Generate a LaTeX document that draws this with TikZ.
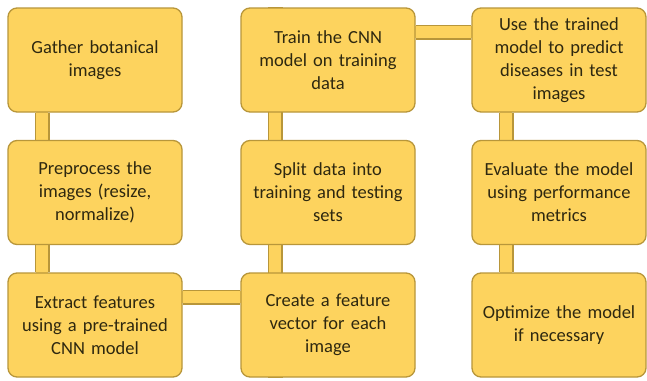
\documentclass[tikz,border=0pt]{standalone}
\usepackage{fontspec}
\setmainfont{Carlito}
\usetikzlibrary{backgrounds}
\definecolor{boxfill}{HTML}{FDD35E}
\definecolor{boxline}{HTML}{B8963A}
\definecolor{boxtext}{HTML}{2E2810}
\tikzset{
  stepbox/.style={draw=boxline, line width=1.3pt, fill=boxfill, rounded corners=9pt,
    minimum width=174pt, minimum height=104pt, inner sep=0pt, text width=166pt,
    align=center, text=boxtext, font=\fontsize{18.5}{23}\selectfont},
  barout/.style={draw=boxline, line width=15pt},
  barin/.style={draw=boxfill, line width=12pt}
}
\begin{document}
\begin{tikzpicture}[x=1pt,y=-1pt]
\useasboundingbox (0,0) rectangle (647,380);
% column 1
\node[stepbox] (gather)  at (95,60)   {Gather botanical\\images};
\node[stepbox] (prep)    at (95,192.5)  {Preprocess the\\images (resize,\\normalize)};
\node[stepbox] (extract) at (95,325)  {Extract features\\using a pre-trained\\CNN model};
% column 2
\node[stepbox] (create)  at (328,325) {Create a feature\\vector for each\\image};
\node[stepbox] (split)   at (328,192.5) {Split data into\\training and testing\\sets};
\node[stepbox] (train)   at (328,60)  {Train the CNN\\model on training\\data};
% column 3
\node[stepbox] (use)     at (559,60)  {Use the trained\\model to predict\\diseases in test\\images};
\node[stepbox] (eval)    at (559,192.5) {Evaluate the model\\using performance\\metrics};
\node[stepbox] (opt)     at (559,325) {Optimize the model\\if necessary};
% white page and connecting bars, drawn behind the boxes
\begin{pgfonlayer}{background}
  \fill[white] (0,0) rectangle (647,380);
  \foreach \a/\b in {gather/prep, prep/extract, create/split, split/train, use/eval, eval/opt}{
    \draw[barout] ([xshift=35pt]\a.south west) -- ([xshift=35pt]\b.north west);
    \draw[barin]  ([xshift=35pt,yshift=2pt]\a.south west) -- ([xshift=35pt,yshift=-2pt]\b.north west);
  }
  \foreach \a/\b in {extract/create, train/use}{
    \draw[barout] ([yshift=-25pt]\a.north east) -- ([yshift=-25pt]\b.north west);
    \draw[barin]  ([xshift=-2pt,yshift=-25pt]\a.north east) -- ([xshift=2pt,yshift=-25pt]\b.north west);
  }
\end{pgfonlayer}
\end{tikzpicture}
\end{document}
